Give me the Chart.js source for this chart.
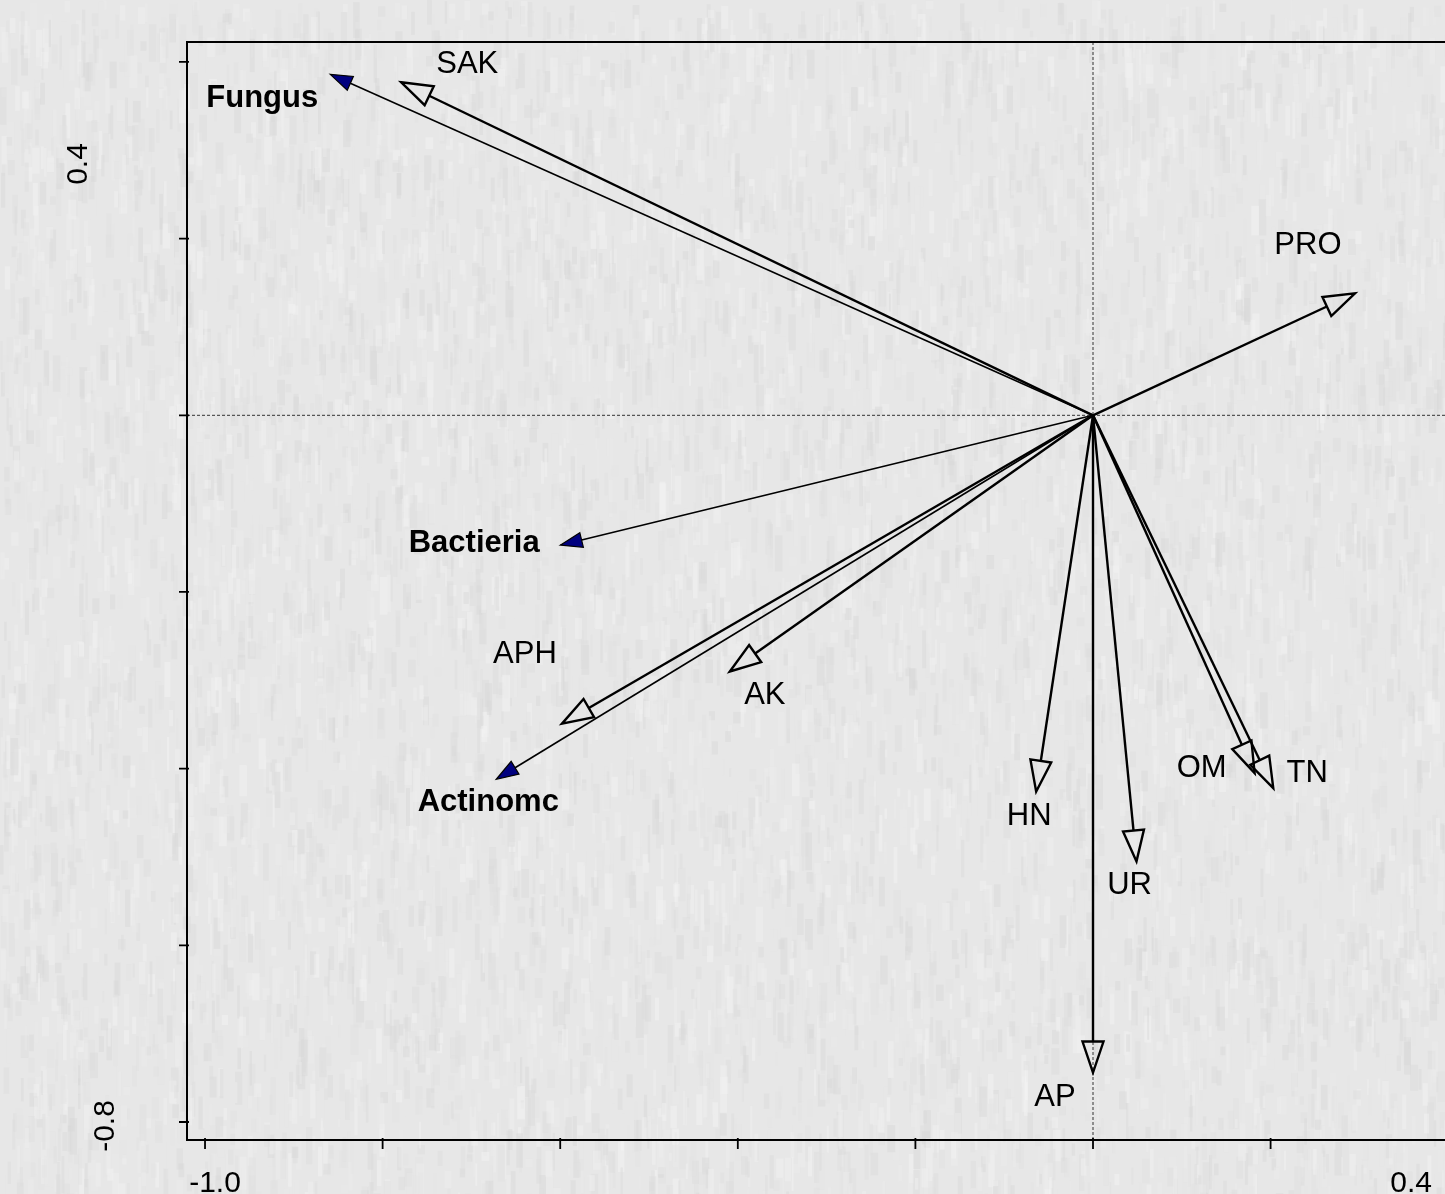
<!DOCTYPE html>
<html>
<head>
<meta charset="utf-8">
<title>Biplot</title>
<script src="https://cdn.jsdelivr.net/npm/chart.js@4.4.1/dist/chart.umd.min.js"></script>
<style>
  html, body { margin: 0; padding: 0; background: #e6e6e6; }
  canvas { display: block; }
</style>
</head>
<body>
<canvas id="biplot" width="1445" height="1194"></canvas>
<script>
// variables ambientales (flechas con punta abierta)
const envNames = ['SAK', 'PRO', 'APH', 'AK', 'HN', 'UR', 'OM', 'TN', 'AP'];
const envX = [-0.779, 0.295, -0.598, -0.409, -0.064, 0.049, 0.182, 0.203, 0.000];
const envY = [0.377, 0.138, -0.349, -0.290, -0.426, -0.505, -0.405, -0.422, -0.744];

// grupos microbianos (flechas con punta rellena)
const spNames = ['Fungus', 'Bactieria', 'Actinomc'];
const spX = [-0.859, -0.600, -0.672];
const spY = [0.386, -0.147, -0.412];

// ejes
const xTicks = [-1.0, -0.8, -0.6, -0.4, -0.2, 0.0, 0.2, 0.4];
const yTicks = [-0.8, -0.6, -0.4, -0.2, 0.0, 0.2, 0.4];
const xTickLabels = ['-1.0', '0.4'];
const yTickLabels = ['-0.8', '0.4'];

// desplazamiento de las etiquetas respecto a la punta (px)
const desplEtiquetas = {
  SAK: [66, -18], PRO: [-47, -48], APH: [-37, -69], AK: [35, 24],
  HN: [-7, 25], UR: [-7, 24], OM: [-53, -5], TN: [34, -15], AP: [-38, 25],
  Fungus: [-68, 24], Bactieria: [-86, -2], Actinomc: [-8, 23]
};

const FUENTE = '"Liberation Sans", Arial, Helvetica, sans-serif';

// textura de fondo tipo papel (semilla fija, solo decorativa)
function crearTextura(w, h) {
  const c = document.createElement('canvas');
  c.width = w; c.height = h;
  const g = c.getContext('2d');
  g.fillStyle = '#e7e7e7';
  g.fillRect(0, 0, w, h);
  let s = 12345;
  const sig = () => { s = (s * 1103515245 + 12345) % 2147483648; return s / 2147483648; };
  for (let i = 0; i < 9000; i++) {
    const x = sig() * w, y = sig() * h;
    const ancho = 2 + sig() * 6, alto = 8 + sig() * 30;
    const tono = Math.round(214 + sig() * 30);
    g.fillStyle = `rgba(${tono},${tono},${tono},0.45)`;
    g.fillRect(x, y, ancho, alto);
  }
  return c;
}
let textura = null;

function flecha(ctx, x0, y0, x1, y1, largo, ancho, relleno, grosor) {
  const ang = Math.atan2(y1 - y0, x1 - x0);
  const bx = x1 - largo * Math.cos(ang);
  const by = y1 - largo * Math.sin(ang);
  ctx.strokeStyle = '#000';
  ctx.lineWidth = grosor;
  ctx.beginPath();
  ctx.moveTo(x0, y0);
  ctx.lineTo(bx, by);
  ctx.stroke();
  const px = -Math.sin(ang) * ancho;
  const py = Math.cos(ang) * ancho;
  ctx.beginPath();
  ctx.moveTo(x1, y1);
  ctx.lineTo(bx + px, by + py);
  ctx.lineTo(bx - px, by - py);
  ctx.closePath();
  if (relleno) {
    ctx.fillStyle = relleno;
    ctx.fill();
    ctx.lineWidth = 1.2;
  }
  ctx.stroke();
}

const pluginBiplot = {
  id: 'biplot',
  beforeDraw(chart) {
    const ctx = chart.ctx;
    if (!textura) textura = crearTextura(chart.width, chart.height);
    ctx.save();
    ctx.drawImage(textura, 0, 0);
    ctx.restore();
  },
  afterDatasetsDraw(chart) {
    const ctx = chart.ctx;
    const sx = chart.scales.x, sy = chart.scales.y;
    const area = chart.chartArea;
    const ox = sx.getPixelForValue(0), oy = sy.getPixelForValue(0);
    ctx.save();

    // líneas de cero punteadas
    ctx.strokeStyle = '#333';
    ctx.lineWidth = 1;
    ctx.setLineDash([3, 2]);
    ctx.beginPath();
    ctx.moveTo(area.left, oy); ctx.lineTo(area.right, oy);
    ctx.moveTo(ox, area.top); ctx.lineTo(ox, area.bottom);
    ctx.stroke();
    ctx.setLineDash([]);

    // marco
    ctx.strokeStyle = '#000';
    ctx.lineWidth = 2;
    ctx.beginPath();
    ctx.moveTo(area.right + 5, area.top);
    ctx.lineTo(area.left, area.top);
    ctx.lineTo(area.left, area.bottom);
    ctx.lineTo(area.right + 5, area.bottom);
    ctx.stroke();

    // marcas de los ejes
    ctx.lineWidth = 1.8;
    ctx.beginPath();
    xTicks.forEach(v => {
      const p = sx.getPixelForValue(v);
      ctx.moveTo(p, area.bottom - 2); ctx.lineTo(p, area.bottom + 9);
    });
    yTicks.forEach(v => {
      const p = sy.getPixelForValue(v);
      ctx.moveTo(area.left + 2, p); ctx.lineTo(area.left - 8, p);
    });
    ctx.stroke();

    // etiquetas de los ejes
    ctx.fillStyle = '#000';
    ctx.font = '30px ' + FUENTE;
    ctx.textAlign = 'center';
    ctx.textBaseline = 'middle';
    ctx.fillText(xTickLabels[0], sx.getPixelForValue(-1.0) + 10, area.bottom + 44);
    ctx.fillText(xTickLabels[1], sx.getPixelForValue(0.4) - 37, area.bottom + 44);
    [[yTickLabels[0], 106, sy.getPixelForValue(-0.8) + 4],
     [yTickLabels[1], 79, sy.getPixelForValue(0.4) + 102]].forEach(([t, x, y]) => {
      ctx.save();
      ctx.translate(x, y);
      ctx.rotate(-Math.PI / 2);
      ctx.fillText(t, 0, 0);
      ctx.restore();
    });

    // flechas de variables ambientales
    ctx.lineJoin = 'miter';
    envNames.forEach((n, i) => {
      const tx = sx.getPixelForValue(envX[i]), ty = sy.getPixelForValue(envY[i]);
      flecha(ctx, ox, oy, tx, ty, 31, 10.5, null, 2.4);
    });
    // flechas de grupos microbianos
    spNames.forEach((n, i) => {
      const tx = sx.getPixelForValue(spX[i]), ty = sy.getPixelForValue(spY[i]);
      flecha(ctx, ox, oy, tx, ty, 22, 7.5, '#00007f', 1.6);
    });

    // nombres
    ctx.fillStyle = '#000';
    ctx.font = '31px ' + FUENTE;
    envNames.forEach((n, i) => {
      const d = desplEtiquetas[n];
      ctx.fillText(n, sx.getPixelForValue(envX[i]) + d[0], sy.getPixelForValue(envY[i]) + d[1]);
    });
    ctx.font = 'bold 31px ' + FUENTE;
    spNames.forEach((n, i) => {
      const d = desplEtiquetas[n];
      ctx.fillText(n, sx.getPixelForValue(spX[i]) + d[0], sy.getPixelForValue(spY[i]) + d[1]);
    });
    ctx.restore();
  }
};

const puntos = envNames.map((n, i) => ({ x: envX[i], y: envY[i] }))
  .concat(spNames.map((n, i) => ({ x: spX[i], y: spY[i] })));

new Chart(document.getElementById('biplot').getContext('2d'), {
  type: 'scatter',
  data: {
    datasets: [{
      label: 'puntas',
      data: puntos,
      pointRadius: 0,
      pointHoverRadius: 0
    }]
  },
  options: {
    responsive: false,
    animation: false,
    layout: { padding: { left: 187, top: 42, right: 0, bottom: 54 } },
    plugins: { legend: { display: false }, tooltip: { enabled: false } },
    scales: {
      x: { type: 'linear', min: -1.0203, max: 0.3964, display: false },
      y: { type: 'linear', min: -0.8204, max: 0.4226, display: false }
    }
  },
  plugins: [pluginBiplot]
});
</script>
</body>
</html>
